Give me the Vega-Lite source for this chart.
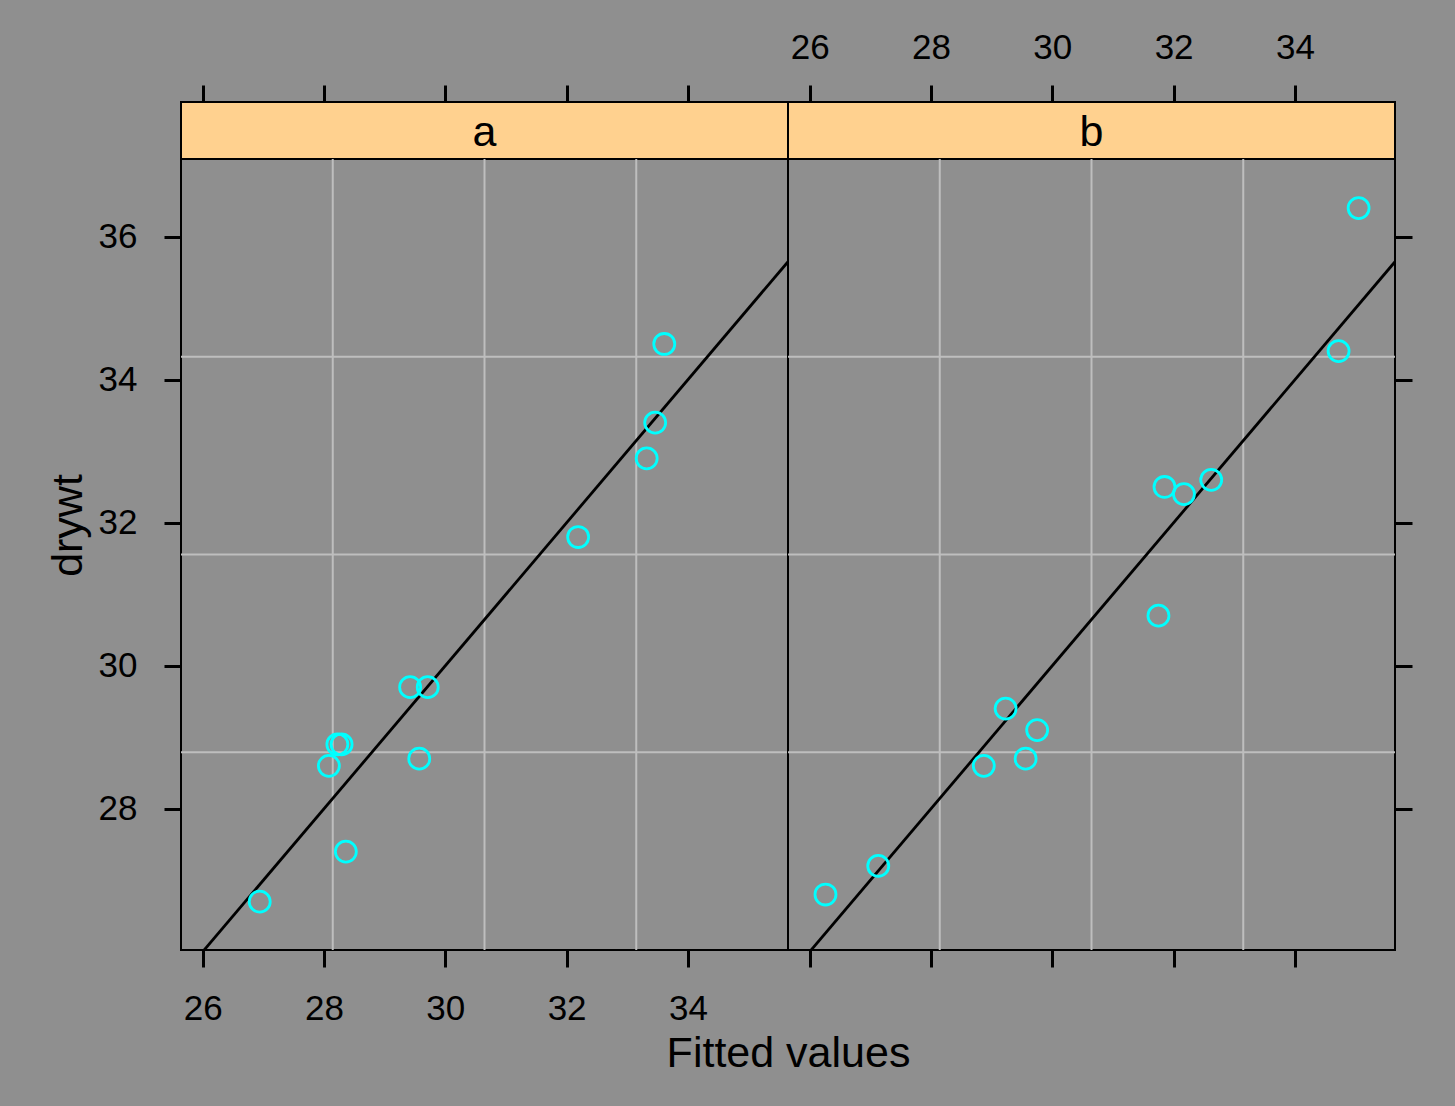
{
  "$schema": "https://vega.github.io/schema/vega-lite/v6.json",
  "background": "#8f8f8f",
  "autosize": {"type": "none"},
  "padding": {"left": 181, "top": 102, "right": 1274, "bottom": 1004},
  "config": {
    "font": "Liberation Sans",
    "axis": {
      "labelFont": "Liberation Sans",
      "titleFont": "Liberation Sans",
      "labelColor": "black",
      "titleColor": "black",
      "tickColor": "black",
      "labelFontSize": 35,
      "titleFontSize": 43,
      "titleFontWeight": "normal",
      "tickSize": 17,
      "tickWidth": 3,
      "domain": false,
      "grid": false,
      "labelFlush": false,
      "labelOverlap": false
    }
  },
  "datasets": {
    "drywt": [
      {"panel": "a", "fitted": 26.94, "drywt": 26.7},
      {"panel": "a", "fitted": 28.08, "drywt": 28.6},
      {"panel": "a", "fitted": 28.22, "drywt": 28.9},
      {"panel": "a", "fitted": 28.29, "drywt": 28.9},
      {"panel": "a", "fitted": 28.36, "drywt": 27.4},
      {"panel": "a", "fitted": 29.42, "drywt": 29.7},
      {"panel": "a", "fitted": 29.71, "drywt": 29.7},
      {"panel": "a", "fitted": 29.57, "drywt": 28.7},
      {"panel": "a", "fitted": 32.19, "drywt": 31.8},
      {"panel": "a", "fitted": 33.32, "drywt": 32.9},
      {"panel": "a", "fitted": 33.46, "drywt": 33.4},
      {"panel": "a", "fitted": 33.61, "drywt": 34.5},
      {"panel": "b", "fitted": 26.26, "drywt": 26.8},
      {"panel": "b", "fitted": 27.13, "drywt": 27.2},
      {"panel": "b", "fitted": 28.87, "drywt": 28.6},
      {"panel": "b", "fitted": 29.23, "drywt": 29.4},
      {"panel": "b", "fitted": 29.56, "drywt": 28.7},
      {"panel": "b", "fitted": 29.75, "drywt": 29.1},
      {"panel": "b", "fitted": 31.75, "drywt": 30.7},
      {"panel": "b", "fitted": 31.85, "drywt": 32.5},
      {"panel": "b", "fitted": 32.17, "drywt": 32.4},
      {"panel": "b", "fitted": 32.62, "drywt": 32.6},
      {"panel": "b", "fitted": 34.72, "drywt": 34.4},
      {"panel": "b", "fitted": 35.05, "drywt": 36.4}
    ],
    "identity": [
      {"fitted": 25, "drywt": 25},
      {"fitted": 38, "drywt": 38}
    ],
    "gridx": [{"g": 28.144}, {"g": 30.646}, {"g": 33.148}],
    "gridy": [{"g": 28.79}, {"g": 31.556}, {"g": 34.321}]
  },
  "columns": 2,
  "spacing": 0,
  "bounds": "flush",
  "concat": [
    {
      "width": 607,
      "height": 57,
      "data": {"values": [{"panel": "a"}]},
      "mark": {"type": "text", "fontSize": 43, "color": "black", "font": "Liberation Sans", "dy": 2},
      "encoding": {"text": {"field": "panel"}},
      "view": {"fill": "#ffd18f", "stroke": "black", "strokeWidth": 2}
    },
    {
      "width": 607,
      "height": 57,
      "data": {"values": [{"panel": "b"}]},
      "mark": {"type": "text", "fontSize": 43, "color": "black", "font": "Liberation Sans", "dy": 2},
      "encoding": {"text": {"field": "panel"}},
      "view": {"fill": "#ffd18f", "stroke": "black", "strokeWidth": 2}
    },
    {
      "width": 607,
      "height": 791,
      "view": {"stroke": "black", "strokeWidth": 2},
      "layer": [
        {
          "data": {"name": "gridx"},
          "mark": {"type": "rule", "color": "#bebebe", "strokeWidth": 2},
          "encoding": {
            "x": {"field": "g", "type": "quantitative", "scale": {"domain": [25.642, 35.65], "nice": false, "zero": false}, "axis": null}
          }
        },
        {
          "data": {"name": "gridy"},
          "mark": {"type": "rule", "color": "#bebebe", "strokeWidth": 2},
          "encoding": {
            "y": {"field": "g", "type": "quantitative", "scale": {"domain": [26.024, 37.087], "nice": false, "zero": false}, "axis": null}
          }
        },
        {
          "data": {"name": "identity"},
          "mark": {"type": "line", "color": "black", "strokeWidth": 2.8, "clip": true},
          "encoding": {
            "x": {"field": "fitted", "type": "quantitative", "scale": {"domain": [25.642, 35.65], "nice": false, "zero": false},
              "axis": {"orient": "top", "offset": 57, "values": [26, 28, 30, 32, 34], "labels": false, "title": null}},
            "y": {"field": "drywt", "type": "quantitative", "scale": {"domain": [26.024, 37.087], "nice": false, "zero": false}, "axis": null}
          }
        },
        {
          "data": {"name": "drywt"},
          "transform": [{"filter": "datum.panel === 'a'"}],
          "mark": {"type": "point", "shape": "circle", "filled": false, "color": "#00ffff", "size": 440, "strokeWidth": 2.8, "opacity": 1},
          "encoding": {
            "x": {"field": "fitted", "type": "quantitative", "scale": {"domain": [25.642, 35.65], "nice": false, "zero": false},
              "axis": {"orient": "bottom", "values": [26, 28, 30, 32, 34], "format": "d", "labelBaseline": "alphabetic", "labelPadding": 52,
                "title": "Fitted values", "titleX": 607, "titleY": 116, "titleAlign": "center", "titleBaseline": "alphabetic"}},
            "y": {"field": "drywt", "type": "quantitative", "scale": {"domain": [26.024, 37.087], "nice": false, "zero": false},
              "axis": {"orient": "left", "values": [28, 30, 32, 34, 36], "format": "d", "labelPadding": 27,
                "title": "drywt", "titleX": -100, "titleY": 366, "titleAngle": -90, "titleAlign": "center", "titleBaseline": "alphabetic"}}
          }
        }
      ],
      "resolve": {"axis": {"x": "independent", "y": "independent"}}
    },
    {
      "width": 607,
      "height": 791,
      "view": {"stroke": "black", "strokeWidth": 2},
      "layer": [
        {
          "data": {"name": "gridx"},
          "mark": {"type": "rule", "color": "#bebebe", "strokeWidth": 2},
          "encoding": {
            "x": {"field": "g", "type": "quantitative", "scale": {"domain": [25.642, 35.65], "nice": false, "zero": false}, "axis": null}
          }
        },
        {
          "data": {"name": "gridy"},
          "mark": {"type": "rule", "color": "#bebebe", "strokeWidth": 2},
          "encoding": {
            "y": {"field": "g", "type": "quantitative", "scale": {"domain": [26.024, 37.087], "nice": false, "zero": false}, "axis": null}
          }
        },
        {
          "data": {"name": "identity"},
          "mark": {"type": "line", "color": "black", "strokeWidth": 2.8, "clip": true},
          "encoding": {
            "x": {"field": "fitted", "type": "quantitative", "scale": {"domain": [25.642, 35.65], "nice": false, "zero": false},
              "axis": {"orient": "top", "offset": 57, "values": [26, 28, 30, 32, 34], "format": "d", "labelBaseline": "alphabetic", "labelPadding": 27, "title": null}},
            "y": {"field": "drywt", "type": "quantitative", "scale": {"domain": [26.024, 37.087], "nice": false, "zero": false}, "axis": null}
          }
        },
        {
          "data": {"name": "drywt"},
          "transform": [{"filter": "datum.panel === 'b'"}],
          "mark": {"type": "point", "shape": "circle", "filled": false, "color": "#00ffff", "size": 440, "strokeWidth": 2.8, "opacity": 1},
          "encoding": {
            "x": {"field": "fitted", "type": "quantitative", "scale": {"domain": [25.642, 35.65], "nice": false, "zero": false},
              "axis": {"orient": "bottom", "values": [26, 28, 30, 32, 34], "labels": false, "title": null}},
            "y": {"field": "drywt", "type": "quantitative", "scale": {"domain": [26.024, 37.087], "nice": false, "zero": false},
              "axis": {"orient": "right", "values": [28, 30, 32, 34, 36], "labels": false, "title": null}}
          }
        }
      ],
      "resolve": {"axis": {"x": "independent", "y": "independent"}}
    }
  ]
}
